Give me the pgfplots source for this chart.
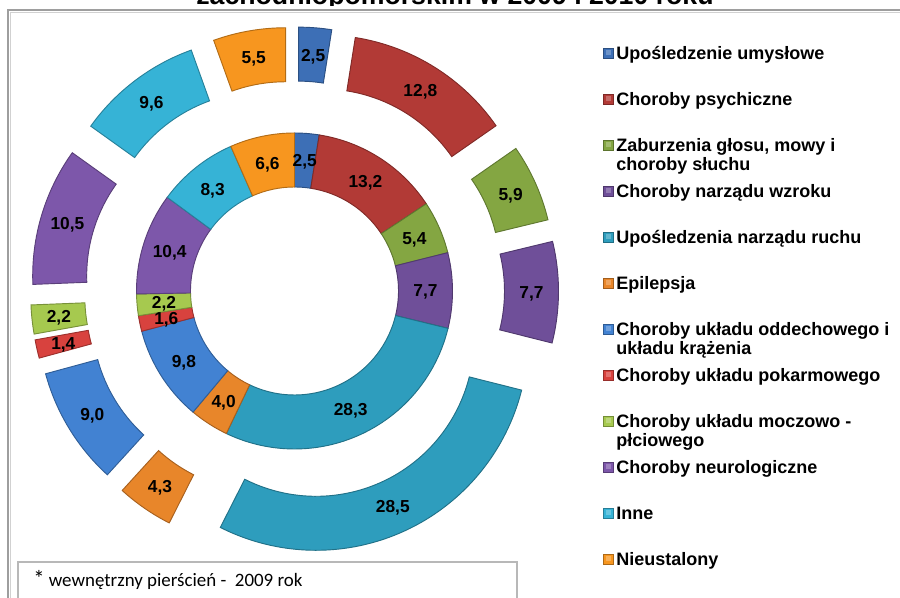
\documentclass[border=0pt]{standalone}
\usepackage{pgfplots}
\pgfplotsset{compat=1.18}
\usepackage{pgfplotstable}
\usepackage{fontspec}
\setmainfont{Liberation Sans}
\newfontfamily\calibri{Carlito}

\definecolor{c0}{HTML}{3D6FB6}
\definecolor{c1}{HTML}{B23A36}
\definecolor{c2}{HTML}{84A642}
\definecolor{c3}{HTML}{6F4F99}
\definecolor{c4}{HTML}{2E9DBD}
\definecolor{c5}{HTML}{E8862A}
\definecolor{c6}{HTML}{4282D2}
\definecolor{c7}{HTML}{D8423E}
\definecolor{c8}{HTML}{A6C94F}
\definecolor{c9}{HTML}{7D57AA}
\definecolor{c10}{HTML}{36B3D6}
\definecolor{c11}{HTML}{F7961F}

% inner ring = 2009, outer ring = 2010
\pgfplotstableread{
cat inner outer
0 2.5 2.5
1 13.2 12.8
2 5.4 5.9
3 7.7 7.7
4 28.3 28.5
5 4.0 4.3
6 9.8 9.0
7 1.6 1.4
8 2.2 2.2
9 10.4 10.5
10 8.3 9.6
11 6.6 5.5
}\data

\newcommand\labfont{\fontsize{13pt}{15pt}\selectfont\bfseries}
\newcommand\legfont{\fontsize{13.5pt}{16pt}\selectfont\bfseries}
\newcommand\numfmt[1]{\pgfmathprintnumber[assume math mode=true,use comma,fixed,fixed zerofill,precision=1]{#1}}

\begin{document}
\begin{tikzpicture}
\path[use as bounding box] (0,0) rectangle (675pt,448.5pt);
\def\cx{294.5}\def\cy{307}
\def\RA{104}\def\RB{158}\def\RC{212}\def\EX{52}
% totals
\gdef\totI{0}\gdef\totO{0}
\pgfplotsforeachungrouped \i in {0,...,11}{%
 \pgfplotstablegetelem{\i}{inner}\of\data
 \pgfmathsetmacro\tmp{\totI+\pgfplotsretval}\xdef\totI{\tmp}%
 \pgfplotstablegetelem{\i}{outer}\of\data
 \pgfmathsetmacro\tmp{\totO+\pgfplotsretval}\xdef\totO{\tmp}%
}
% angles
\gdef\cumI{0}\gdef\cumO{0}
\pgfplotsforeachungrouped \i in {0,...,11}{%
 \pgfplotstablegetelem{\i}{inner}\of\data
 \expandafter\xdef\csname vI\i\endcsname{\pgfplotsretval}%
 \pgfmathsetmacro\tmp{90-(\cumI/\totI)*360}\expandafter\xdef\csname sI\i\endcsname{\tmp}%
 \pgfmathsetmacro\tmp{\cumI+\pgfplotsretval}\xdef\cumI{\tmp}%
 \pgfmathsetmacro\tmp{90-(\cumI/\totI)*360}\expandafter\xdef\csname eI\i\endcsname{\tmp}%
 \pgfmathsetmacro\tmp{(\csname sI\i\endcsname+\csname eI\i\endcsname)/2}\expandafter\xdef\csname mI\i\endcsname{\tmp}%
 \pgfplotstablegetelem{\i}{outer}\of\data
 \expandafter\xdef\csname vO\i\endcsname{\pgfplotsretval}%
 \pgfmathsetmacro\tmp{90-(\cumO/\totO)*360}\expandafter\xdef\csname sO\i\endcsname{\tmp}%
 \pgfmathsetmacro\tmp{\cumO+\pgfplotsretval}\xdef\cumO{\tmp}%
 \pgfmathsetmacro\tmp{90-(\cumO/\totO)*360}\expandafter\xdef\csname eO\i\endcsname{\tmp}%
 \pgfmathsetmacro\tmp{(\csname sO\i\endcsname+\csname eO\i\endcsname)/2}\expandafter\xdef\csname mO\i\endcsname{\tmp}%
}
\begin{axis}[x=0.75pt, y=0.75pt, xmin=0, xmax=900, ymin=0, ymax=598,
  at={(0,0)}, anchor=south west, hide axis, clip=false]
% chart frame
\draw[color=black!38, line width=1.5pt] (axis cs:8,-20) -- (axis cs:8,588) -- (axis cs:920,588);
\draw[color=black!18, line width=0.6pt] (axis cs:10.2,-20) -- (axis cs:10.2,585.8) -- (axis cs:920,585.8);
% title (only its lower part is visible, as in the original)
\begin{scope}
\clip (axis cs:0,592.6) rectangle (axis cs:900,640);
\node[anchor=base, inner sep=0, font=\fontsize{20pt}{24pt}\selectfont\bfseries] at (axis cs:455,593.5) {zachodniopomorskim w 2009 i 2010 roku};
\end{scope}
% inner ring
\pgfplotsinvokeforeach{0,...,11}{
 \fill[c#1, draw=c#1!72!black, line width=0.7pt]
  (axis cs:{\cx+\RB*cos(\csname sI#1\endcsname)},{\cy+\RB*sin(\csname sI#1\endcsname)})
  arc[start angle=\csname sI#1\endcsname, end angle=\csname eI#1\endcsname, radius=\RB*0.75pt]
  -- (axis cs:{\cx+\RA*cos(\csname eI#1\endcsname)},{\cy+\RA*sin(\csname eI#1\endcsname)})
  arc[start angle=\csname eI#1\endcsname, end angle=\csname sI#1\endcsname, radius=\RA*0.75pt]
  -- cycle;
}
% outer ring, exploded
\pgfplotsinvokeforeach{0,...,11}{
 \fill[c#1, draw=c#1!72!black, line width=0.7pt]
  (axis cs:{\cx+\EX*cos(\csname mO#1\endcsname)+\RC*cos(\csname sO#1\endcsname)},{\cy+\EX*sin(\csname mO#1\endcsname)+\RC*sin(\csname sO#1\endcsname)})
  arc[start angle=\csname sO#1\endcsname, end angle=\csname eO#1\endcsname, radius=\RC*0.75pt]
  -- (axis cs:{\cx+\EX*cos(\csname mO#1\endcsname)+\RB*cos(\csname eO#1\endcsname)},{\cy+\EX*sin(\csname mO#1\endcsname)+\RB*sin(\csname eO#1\endcsname)})
  arc[start angle=\csname eO#1\endcsname, end angle=\csname sO#1\endcsname, radius=\RB*0.75pt]
  -- cycle;
}
% labels
\pgfplotsinvokeforeach{0,...,11}{
 \node[anchor=base, inner sep=0, font=\labfont] at (axis cs:{\cx+131*cos(\csname mI#1\endcsname)},{\cy+131*sin(\csname mI#1\endcsname)-6.3})
  {\numfmt{\csname vI#1\endcsname}};
 \node[anchor=base, inner sep=0, font=\labfont] at (axis cs:{\cx+237*cos(\csname mO#1\endcsname)},{\cy+237*sin(\csname mO#1\endcsname)-6.3})
  {\numfmt{\csname vO#1\endcsname}};
}
% legend
\pgfplotsinvokeforeach{0,...,11}{
 \fill[c#1, draw=c#1!70!black, line width=0.5pt] (axis cs:603.5,{598-53-46*#1-5}) rectangle (axis cs:613.5,{598-53-46*#1+5});
 \fill[c#1!75!white] (axis cs:606,{598-53-46*#1-2}) rectangle (axis cs:611,{598-53-46*#1+3});
}
\node[anchor=base west, inner sep=0, font=\legfont] at (axis cs:616,{598-53-46*0-6.5}) {Upośledzenie umysłowe};
\node[anchor=base west, inner sep=0, font=\legfont] at (axis cs:616,{598-53-46*1-6.5}) {Choroby psychiczne};
\node[anchor=base west, inner sep=0, font=\legfont] at (axis cs:616,{598-53-46*2-6.5}) {Zaburzenia głosu, mowy i};
\node[anchor=base west, inner sep=0, font=\legfont] at (axis cs:616,{598-53-46*2-6.5-19.5}) {choroby słuchu};
\node[anchor=base west, inner sep=0, font=\legfont] at (axis cs:616,{598-53-46*3-6.5}) {Choroby narządu wzroku};
\node[anchor=base west, inner sep=0, font=\legfont] at (axis cs:616,{598-53-46*4-6.5}) {Upośledzenia narządu ruchu};
\node[anchor=base west, inner sep=0, font=\legfont] at (axis cs:616,{598-53-46*5-6.5}) {Epilepsja};
\node[anchor=base west, inner sep=0, font=\legfont] at (axis cs:616,{598-53-46*6-6.5}) {Choroby układu oddechowego i};
\node[anchor=base west, inner sep=0, font=\legfont] at (axis cs:616,{598-53-46*6-6.5-19.5}) {układu krążenia};
\node[anchor=base west, inner sep=0, font=\legfont] at (axis cs:616,{598-53-46*7-6.5}) {Choroby układu pokarmowego};
\node[anchor=base west, inner sep=0, font=\legfont] at (axis cs:616,{598-53-46*8-6.5}) {Choroby układu moczowo -};
\node[anchor=base west, inner sep=0, font=\legfont] at (axis cs:616,{598-53-46*8-6.5-19.5}) {płciowego};
\node[anchor=base west, inner sep=0, font=\legfont] at (axis cs:616,{598-53-46*9-6.5}) {Choroby neurologiczne};
\node[anchor=base west, inner sep=0, font=\legfont] at (axis cs:616,{598-53-46*10-6.5}) {Inne};
\node[anchor=base west, inner sep=0, font=\legfont] at (axis cs:616,{598-53-46*11-6.5}) {Nieustalony};
% footnote box
\draw[color=black!28, line width=0.9pt] (axis cs:18,-10) rectangle (axis cs:517,36);
\node[anchor=base west, inner sep=0, font=\calibri\fontsize{14.2pt}{17pt}\selectfont] at (axis cs:33,11.5) {\fontsize{17pt}{17pt}\selectfont*\fontsize{14.2pt}{17pt}\selectfont\ wewnętrzny pierścień -\ \ 2009 rok};
\end{axis}
\end{tikzpicture}
\end{document}
